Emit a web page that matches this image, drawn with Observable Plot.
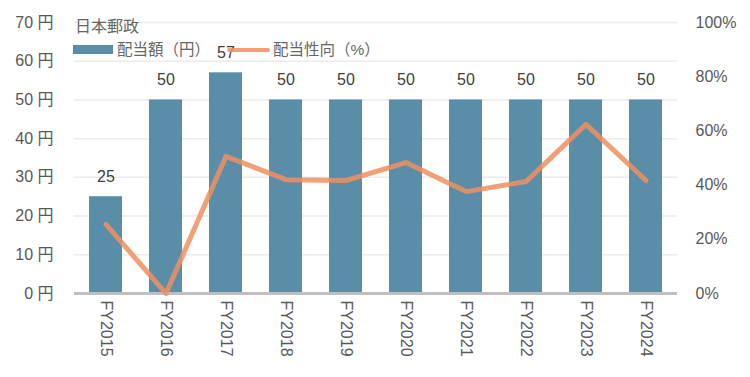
<!DOCTYPE html>
<html><head><meta charset="utf-8">
<script src="https://cdn.jsdelivr.net/npm/d3@7"></script>
<script src="https://cdn.jsdelivr.net/npm/@observablehq/plot@0.6"></script>
<style>
body{margin:0;background:#fff;font-family:"Liberation Sans","Noto Sans CJK JP",sans-serif;}
#wrap{position:relative;width:750px;height:377px;}
.lg{position:absolute;font-size:15.5px;color:#666;white-space:nowrap;line-height:1;}
</style></head>
<body><div id="wrap"></div>
<script>
const title = "日本郵政";
const seriesBarName = "配当額（円）";
const seriesLineName = "配当性向（%）";
const years = ["FY2015","FY2016","FY2017","FY2018","FY2019","FY2020","FY2021","FY2022","FY2023","FY2024"];
const dividends = [25,50,57,50,50,50,50,50,50,50];
const payout = [25.5,0,50.6,42,41.7,48.3,37.6,41.3,62.4,41.7];
const yTicks = [0,10,20,30,40,50,60,70];
const pctTicks = [0,20,40,60,80,100];
const yMax = 70;
const k = yMax/100;

const data = years.map((y,i)=>({year:y, div:dividends[i], pct:payout[i], py:payout[i]*k}));

const chart = Plot.plot({
  width:750, height:377,
  marginLeft:74, marginRight:73, marginTop:22, marginBottom:84,
  style:{fontFamily:'"Liberation Sans","Noto Sans CJK JP",sans-serif', fontSize:"16px", color:"#595959", background:"#fff"},
  x:{domain:years, paddingInner:0.45, paddingOuter:0.225, label:null},
  y:{domain:[0,yMax], label:null},
  marks:[
    Plot.ruleY(yTicks.slice(1), {stroke:"#ececec", strokeWidth:1.5}),
    Plot.barY(data, {x:"year", y:"div", fill:"#5a8da7"}),
    Plot.ruleY([0], {stroke:"#bfbfbf", strokeWidth:3}),
    Plot.line(data, {x:"year", y:"py", stroke:"#ef8f60", strokeOpacity:0.85, strokeWidth:5}),
    Plot.text(data, {x:"year", y:"div", text:d=>String(d.div), dy:-20, fill:"#404040", fontSize:16}),
    Plot.axisY({anchor:"left", ticks:yTicks, tickSize:0, tickPadding:21, fontSize:16, tickFormat:d=>d+" 円", label:null, fill:"#595959"}),
    Plot.axisY({anchor:"right", ticks:pctTicks.map(p=>p*k), tickSize:0, tickPadding:18, fontSize:16, tickFormat:d=>Math.round(d/k)+"%", label:null, fill:"#595959"}),
    Plot.axisX({anchor:"bottom", tickSize:0, tickPadding:7, tickRotate:90, fontSize:16, label:null, fill:"#595959"})
  ]
});
const wrap = document.getElementById("wrap");
wrap.appendChild(chart);

function add(html, css){const d=document.createElement("div");d.className="lg";d.innerHTML=html;Object.assign(d.style,css);wrap.appendChild(d);return d;}
add(title,{left:"75px",top:"19px",fontSize:"16px"});
const sw1=document.createElement("div");Object.assign(sw1.style,{position:"absolute",left:"73px",top:"45px",width:"40px",height:"9px",background:"#5a8da7"});wrap.appendChild(sw1);
add(seriesBarName,{left:"117px",top:"42px"});
const sw2=document.createElement("div");Object.assign(sw2.style,{position:"absolute",left:"227px",top:"48px",width:"43px",height:"4px",background:"#ef8f60",opacity:"0.85",borderRadius:"2px"});wrap.appendChild(sw2);
add(seriesLineName,{left:"273px",top:"42px"});
</script></body></html>
